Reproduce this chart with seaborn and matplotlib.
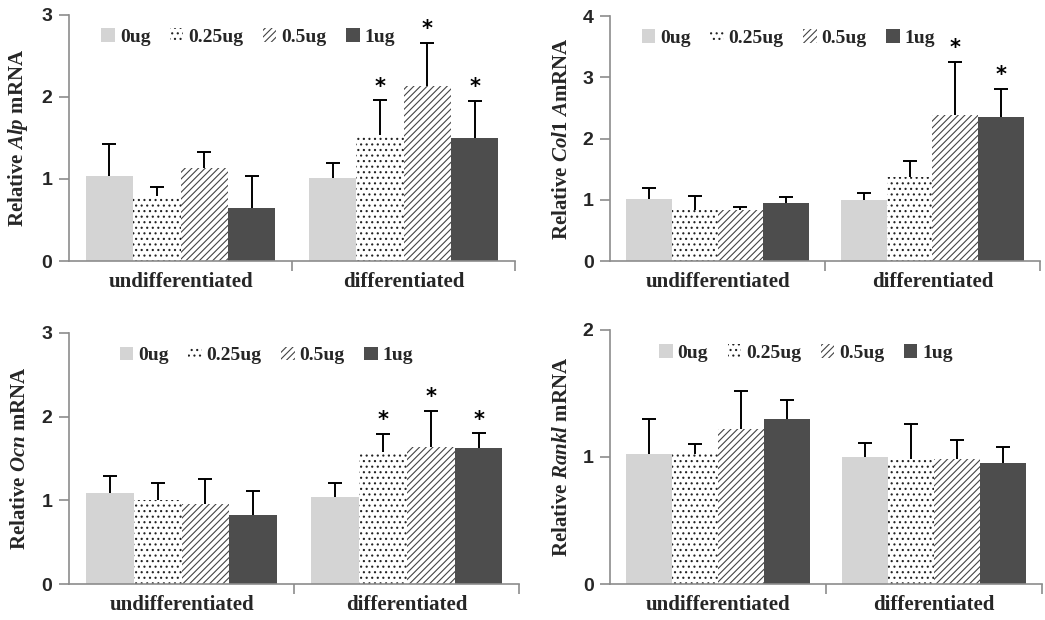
import pandas as pd
import seaborn as sns
import matplotlib.pyplot as plt
import matplotlib.patches as mpatches
from matplotlib.ticker import FixedLocator

# ---- data ----
groups = ["undifferentiated", "differentiated"]
doses = ["0ug", "0.25ug", "0.5ug", "1ug"]

alp_undiff = [1.04, 0.79, 1.13, 0.65]
alp_undiff_sd = [0.39, 0.11, 0.20, 0.39]
alp_diff = [1.01, 1.54, 2.13, 1.50]
alp_diff_sd = [0.18, 0.42, 0.53, 0.45]

col_undiff = [1.01, 0.83, 0.84, 0.94]
col_undiff_sd = [0.19, 0.24, 0.05, 0.10]
col_diff = [1.00, 1.38, 2.39, 2.35]
col_diff_sd = [0.11, 0.25, 0.86, 0.46]

ocn_undiff = [1.09, 1.00, 0.96, 0.83]
ocn_undiff_sd = [0.20, 0.21, 0.30, 0.28]
ocn_diff = [1.04, 1.58, 1.64, 1.62]
ocn_diff_sd = [0.17, 0.21, 0.43, 0.18]

rankl_undiff = [1.02, 1.02, 1.22, 1.30]
rankl_undiff_sd = [0.28, 0.08, 0.30, 0.15]
rankl_diff = [1.00, 0.98, 0.98, 0.95]
rankl_diff_sd = [0.11, 0.28, 0.15, 0.13]

# significant bars (group, dose)
alp_sig = [("differentiated", "0.25ug"), ("differentiated", "0.5ug"), ("differentiated", "1ug")]
col_sig = [("differentiated", "0.5ug"), ("differentiated", "1ug")]
ocn_sig = [("differentiated", "0.25ug"), ("differentiated", "0.5ug"), ("differentiated", "1ug")]
rankl_sig = []

# ---- styling ----
fills = {"0ug": "#d4d4d4", "0.25ug": "white", "0.5ug": "white", "1ug": "#4d4d4d"}
hatches = {"0ug": "", "0.25ug": "...", "0.5ug": "/////", "1ug": ""}
hatch_cols = {"0ug": "#d4d4d4", "0.25ug": "#222222", "0.5ug": "#444444", "1ug": "#4d4d4d"}
spine_col = "#8c8c8c"

sns.set_style("white")
plt.rcParams["hatch.linewidth"] = 0.8
plt.rcParams["mathtext.fontset"] = "custom"
plt.rcParams["mathtext.it"] = "Liberation Serif:italic:bold"
plt.rcParams["mathtext.rm"] = "Liberation Serif:bold"

serif_bold = dict(family="Liberation Serif", weight="bold")


def make_frame(undiff, undiff_sd, diff, diff_sd):
    rows = []
    for g, vals, sds in [(groups[0], undiff, undiff_sd), (groups[1], diff, diff_sd)]:
        for d, v, s in zip(doses, vals, sds):
            rows.append({"group": g, "dose": d, "value": v, "sd": s})
    return pd.DataFrame(rows)


def panel(ax, df, ylabel, ymax, sig, leg_x):
    sns.barplot(data=df, x="group", y="value", hue="dose", order=groups,
                hue_order=doses, palette=fills, width=0.85, errorbar=None,
                legend=False, ax=ax)
    for dose, cont in zip(doses, ax.containers):
        sub = df[df["dose"] == dose].set_index("group").loc[groups]
        for g, bar, v, s in zip(groups, cont, sub["value"], sub["sd"]):
            bar.set_hatch(hatches[dose])
            bar.set_edgecolor(hatch_cols[dose])
            bar.set_linewidth(0)
            xc = bar.get_x() + bar.get_width() / 2
            eb = ax.errorbar(xc, v, yerr=[[0], [s]], fmt="none", ecolor="black",
                             elinewidth=1.4, capsize=5, capthick=1.4, zorder=3)
            eb[1][0].set_visible(False)  # only the upper cap
            if (g, dose) in sig:
                ax.text(xc, v + s + ymax * 0.015, "*", ha="center", va="bottom",
                        fontsize=15, fontweight="bold", color="black")

    ax.set_xlim(-0.5, 1.5)
    ax.set_ylim(0, ymax)
    ax.set_yticks(range(0, ymax + 1))
    ax.set_yticklabels([str(i) for i in range(0, ymax + 1)],
                       fontsize=14, fontweight="bold", family="Liberation Sans")
    ax.set_xticks([0, 1])
    ax.set_xticklabels(groups, fontsize=15, **serif_bold)
    ax.xaxis.set_minor_locator(FixedLocator([0.5, 1.5]))
    ax.tick_params(axis="x", which="major", length=0, pad=8)
    ax.tick_params(axis="x", which="minor", length=7, width=1.2,
                   color=spine_col, direction="out", bottom=True)
    ax.tick_params(axis="y", length=7, width=1.2, color=spine_col,
                   direction="out", left=True, pad=5)
    ax.set_xlabel("")
    ax.set_ylabel(ylabel, fontsize=15, labelpad=8, **serif_bold)
    sns.despine(ax=ax)
    for sp in ["left", "bottom"]:
        ax.spines[sp].set_color(spine_col)
        ax.spines[sp].set_linewidth(1.2)

    handles = [mpatches.Patch(facecolor=fills[d], hatch=hatches[d],
                              edgecolor=hatch_cols[d], linewidth=0, label=d)
               for d in doses]
    ax.legend(handles=handles, loc="center left", bbox_to_anchor=(leg_x, 0.91),
              ncol=4, frameon=False, handlelength=0.7, handleheight=0.7,
              handletextpad=0.25, columnspacing=1.0, borderaxespad=0,
              prop=dict(family="Liberation Serif", weight="bold", size=14))


fig = plt.figure(figsize=(10.45, 6.2), dpi=100)
ax1 = fig.add_axes([0.066, 0.579, 0.427, 0.397])
ax2 = fig.add_axes([0.584, 0.579, 0.411, 0.395])
ax3 = fig.add_axes([0.066, 0.058, 0.431, 0.405])
ax4 = fig.add_axes([0.584, 0.058, 0.413, 0.410])

panel(ax1, make_frame(alp_undiff, alp_undiff_sd, alp_diff, alp_diff_sd),
      r"Relative $\mathit{Alp}$ mRNA", 3, alp_sig, 0.055)
panel(ax2, make_frame(col_undiff, col_undiff_sd, col_diff, col_diff_sd),
      r"Relative $\mathit{Col1\ A}$mRNA", 4, col_sig, 0.055)
panel(ax3, make_frame(ocn_undiff, ocn_undiff_sd, ocn_diff, ocn_diff_sd),
      r"Relative $\mathit{Ocn}$ mRNA", 3, ocn_sig, 0.095)
panel(ax4, make_frame(rankl_undiff, rankl_undiff_sd, rankl_diff, rankl_diff_sd),
      r"Relative $\mathit{Rankl}$ mRNA", 2, rankl_sig, 0.095)

fig.savefig("out.png", dpi=100)
